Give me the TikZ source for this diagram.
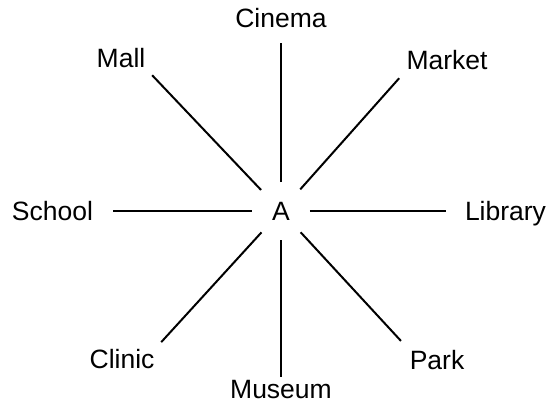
\documentclass[tikz,border=0pt]{standalone}
\usepackage{fontspec}
\setmainfont{Liberation Sans}
\usetikzlibrary{positioning}

\begin{document}
\begin{tikzpicture}[
  x=1pt, y=1pt,
  place/.style={inner sep=0pt, outer sep=0pt, text height=19pt, text depth=0pt,
                font=\fontsize{26.5}{30}\selectfont},
  hub/.style={place, circle, minimum size=58pt},
  link/.style={line width=2pt, shorten >=10pt}
]
  \useasboundingbox (-281,-196) rectangle (271,211);

  \node[hub] (A) at (0,0) {A};

  % places round A
  \node[place, above=154pt of A] (cinema) {Cinema};
  \node[place, above right=120.5pt and 105pt of A] (market) {Market};
  \node[place, right=155pt of A] (library) {Library};
  \node[place, below right=119pt and 108.3pt of A] (park) {Park};
  \node[place, below=139pt of A] (museum) {Museum};
  \node[place, below left=118pt and 106pt of A] (clinic) {Clinic};
  \node[place, left=159pt of A] (school) {School};
  \node[place, above left=122.5pt and 115.2pt of A] (mall) {Mall};

  \draw[link, shorten >=15pt] (A) -- (cinema);
  \draw[link, shorten >=11pt] (A) -- (market.south west);
  \draw[link, shorten >=19pt] (A) -- (library);
  \draw[link, shorten >=13pt] (A) -- (park.north west);
  \draw[link, shorten >=2pt] (A) -- (museum);
  \draw[link] (A) -- (clinic.north east);
  \draw[link, shorten >=20pt] (A) -- (school);
  \draw[link] (A) -- (mall.south east);
\end{tikzpicture}
\end{document}
